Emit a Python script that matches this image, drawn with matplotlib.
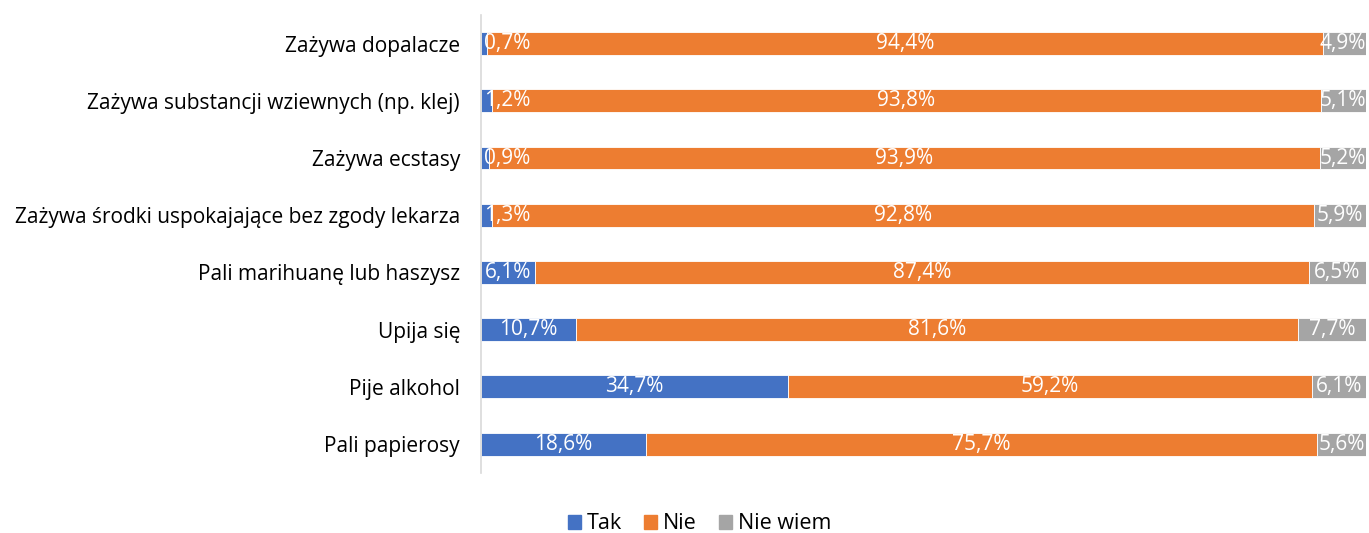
import numpy as np
import matplotlib.pyplot as plt
from matplotlib.patches import Patch

plt.rcParams['font.family'] = ['Open Sans', 'DejaVu Sans']

categories = ["Zażywa dopalacze",
              "Zażywa substancji wziewnych (np. klej)",
              "Zażywa ecstasy",
              "Zażywa środki uspokajające bez zgody lekarza",
              "Pali marihuanę lub haszysz",
              "Upija się",
              "Pije alkohol",
              "Pali papierosy"]
tak = [0.7, 1.2, 0.9, 1.3, 6.1, 10.7, 34.7, 18.6]
nie = [94.4, 93.8, 93.9, 92.8, 87.4, 81.6, 59.2, 75.7]
nie_wiem = [4.9, 5.1, 5.2, 5.9, 6.5, 7.7, 6.1, 5.6]

series = [("Tak", tak, "#4472C4"), ("Nie", nie, "#ED7D31"), ("Nie wiem", nie_wiem, "#A5A5A5")]

fig = plt.figure(figsize=(13.69, 5.33), dpi=100)
ax = fig.add_axes([0.3513, 0.113, 0.6467, 0.859])

y = np.arange(len(categories))
total = np.array(tak) + np.array(nie) + np.array(nie_wiem)
left = np.zeros(len(categories))
for name, vals, col in series:
    vals = np.array(vals)
    w = vals / total * 100
    ax.barh(y, w, left=left, height=0.4, color=col, edgecolor='white', linewidth=0.6)
    for yi, l, wi, v in zip(y, left, w, vals):
        cx = l + wi / 2
        txt = f"{v:.1f}%".replace('.', ',')
        half = 0.66 * len(txt)  # approx half label width in axis units
        # keep labels inside the plot area
        if cx < half:
            ax.text(0.3, yi, txt, ha='left', va='center', color='white', fontsize=15)
        elif cx > 100 - half:
            ax.text(100, yi, txt, ha='right', va='center', color='white', fontsize=15)
        else:
            ax.text(cx, yi, txt, ha='center', va='center', color='white', fontsize=15)
    left += w

ax.set_xlim(0, 100)
ax.set_ylim(len(categories) - 0.5, -0.5)
ax.set_yticks(y)
ax.set_yticklabels(categories, fontsize=15, color='#000000')
ax.tick_params(axis='y', length=0, pad=15)
ax.set_xticks([])
for s in ['top', 'right', 'bottom']:
    ax.spines[s].set_visible(False)
ax.spines['left'].set_color('#D9D9D9')
ax.spines['left'].set_linewidth(1.2)

handles = [Patch(color=c, label=n) for n, _, c in series]
fig.legend(handles=handles, loc='center', bbox_to_anchor=(0.511, 0.017), ncol=3,
           frameon=False, fontsize=15.5, handlelength=0.6, handleheight=0.6,
           handletextpad=0.3, columnspacing=1.0)

fig.savefig("out.png", dpi=100)
